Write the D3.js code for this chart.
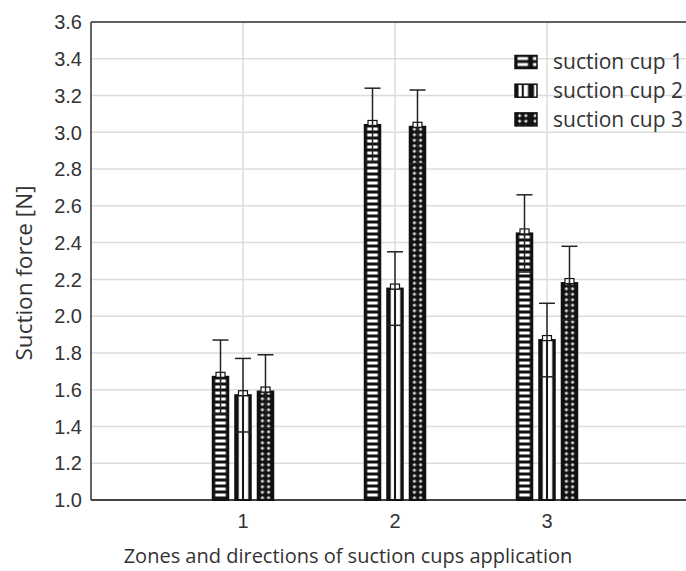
<!DOCTYPE html>
<html><head><meta charset="utf-8">
<script src="https://cdn.jsdelivr.net/npm/d3@7"></script>
<style>body{margin:0;background:#fff}</style>
</head><body>
<script>
const categories = ["1", "2", "3"];
const series = ["suction cup 1", "suction cup 2", "suction cup 3"];
const means = [
  [1.67, 3.04, 2.45],
  [1.57, 2.15, 1.87],
  [1.59, 3.03, 2.18]
];
const errors = [
  [0.20, 0.20, 0.21],
  [0.20, 0.20, 0.20],
  [0.20, 0.20, 0.20]
];
const yTicks = [1.0, 1.2, 1.4, 1.6, 1.8, 2.0, 2.2, 2.4, 2.6, 2.8, 3.0, 3.2, 3.4, 3.6];

const W = 686, H = 571;
const svg = d3.select("body").append("svg").attr("width", W).attr("height", H);
const x = d3.scaleLinear().domain([0, 4]).range([91, 699]);
const y = d3.scaleLinear().domain([1.0, 3.6]).range([500, 22]);
const inner = d3.scaleBand().domain(series).range([-30.25, 30.25]).paddingInner(0.31);
const bw = inner.bandwidth();

const defs = svg.append("defs");
// pattern 1: horizontal stripes
const p1 = defs.append("pattern").attr("id", "p1").attr("patternUnits", "userSpaceOnUse")
  .attr("width", bw).attr("height", 6);
p1.append("rect").attr("width", bw).attr("height", 6).attr("fill", "#111");
p1.append("rect").attr("x", 2.5).attr("y", 1.5).attr("width", bw - 5).attr("height", 3).attr("fill", "#fff");
// pattern 2: vertical lines
const p2 = defs.append("pattern").attr("id", "p2").attr("patternUnits", "userSpaceOnUse")
  .attr("width", bw).attr("height", 10);
p2.append("rect").attr("width", bw).attr("height", 10).attr("fill", "#fff");
p2.append("rect").attr("x", 0).attr("width", 3.5).attr("height", 10).attr("fill", "#111");
p2.append("rect").attr("x", bw / 2 - 1).attr("width", 2).attr("height", 10).attr("fill", "#111");
p2.append("rect").attr("x", bw - 2.5).attr("width", 2.5).attr("height", 10).attr("fill", "#111");
// pattern 3: crosses
const p3 = defs.append("pattern").attr("id", "p3").attr("patternUnits", "userSpaceOnUse")
  .attr("width", bw).attr("height", 5.5);
p3.append("rect").attr("width", bw).attr("height", 5.5).attr("fill", "#111");
[0.3, 0.7].forEach(f => {
  const cx = bw * f;
  p3.append("rect").attr("x", cx - 1.7).attr("y", 2.2).attr("width", 3.4).attr("height", 1.1).attr("fill", "#fff");
  p3.append("rect").attr("x", cx - 0.55).attr("y", 1.1).attr("width", 1.1).attr("height", 3.4).attr("fill", "#fff");
});
const fills = ["url(#p1)", "url(#p2)", "url(#p3)"];

// grid
svg.append("g").selectAll("line").data(yTicks.slice(1)).join("line")
  .attr("x1", x(0)).attr("x2", W).attr("y1", d => y(d)).attr("y2", d => y(d))
  .attr("stroke", "#dcdcdc").attr("stroke-width", 1.5);
svg.append("g").selectAll("line").data(categories).join("line")
  .attr("x1", d => x(+d)).attr("x2", d => x(+d)).attr("y1", y(3.6)).attr("y2", y(1.0))
  .attr("stroke", "#dcdcdc").attr("stroke-width", 1.5);

// frame
svg.append("line").attr("x1", x(0)).attr("x2", W).attr("y1", y(3.6)).attr("y2", y(3.6)).attr("stroke", "#333").attr("stroke-width", 1.5);
svg.append("line").attr("x1", x(0)).attr("x2", W).attr("y1", y(1.0)).attr("y2", y(1.0)).attr("stroke", "#444").attr("stroke-width", 2);
svg.append("line").attr("x1", x(0)).attr("x2", x(0)).attr("y1", y(3.6)).attr("y2", y(1.0)).attr("stroke", "#333").attr("stroke-width", 1.5);

// y tick labels
svg.append("g").selectAll("text").data(yTicks).join("text")
  .attr("x", 82).attr("y", d => y(d)).attr("dy", "0.36em").attr("text-anchor", "end")
  .attr("font-family", "Liberation Sans, Arial, sans-serif").attr("font-size", 20).attr("fill", "#333")
  .text(d => d.toFixed(1));
// x tick labels
svg.append("g").selectAll("text").data(categories).join("text")
  .attr("x", d => x(+d)).attr("y", 528).attr("text-anchor", "middle")
  .attr("font-family", "Liberation Sans, Arial, sans-serif").attr("font-size", 20).attr("fill", "#333")
  .text(d => d);

// bars
series.forEach((s, si) => {
  categories.forEach((c, ci) => {
    const v = means[si][ci], e = errors[si][ci];
    const cx = x(+c) + inner(s) + bw / 2;
    const g = svg.append("g").attr("transform", `translate(${x(+c) + inner(s)},0)`);
    g.append("rect").attr("x", 0).attr("y", y(v)).attr("width", bw).attr("height", y(1.0) - y(v))
      .attr("fill", fills[si]).attr("stroke", "#111").attr("stroke-width", 2);
    // marker
    svg.append("rect").attr("x", cx - 4.5).attr("y", y(v) - 4.5).attr("width", 9).attr("height", 5)
      .attr("fill", "#fff").attr("stroke", "#111").attr("stroke-width", 1.2);
    // error bar
    svg.append("line").attr("x1", cx).attr("x2", cx).attr("y1", y(v - e)).attr("y2", y(v + e))
      .attr("stroke", "#222").attr("stroke-width", 1.5);
    [v - e, v + e].forEach(t => {
      svg.append("line").attr("x1", cx - 8).attr("x2", cx + 8).attr("y1", y(t)).attr("y2", y(t))
        .attr("stroke", "#222").attr("stroke-width", 1.5);
    });
  });
});

// legend
const lg = svg.append("g");
series.forEach((s, i) => {
  const ly = 62 + i * 28.7;
  const g = lg.append("g").attr("transform", `translate(515,${ly - 6.5})`);
  g.append("rect").attr("width", 22).attr("height", 13).attr("fill", fills[i]).attr("stroke", "#111").attr("stroke-width", 1.5);
  lg.append("text").attr("x", 553).attr("y", ly).attr("dy", "0.35em")
    .attr("font-family", "Open Sans, sans-serif").attr("font-size", 21).attr("fill", "#333").text(s);
});

// axis titles
svg.append("text").attr("transform", `translate(32,273) rotate(-90)`).attr("text-anchor", "middle")
  .attr("font-family", "Open Sans, sans-serif").attr("font-size", 22.5).attr("fill", "#333").text("Suction force [N]");
svg.append("text").attr("x", 348).attr("y", 563).attr("text-anchor", "middle")
  .attr("font-family", "Open Sans, sans-serif").attr("font-size", 20).attr("fill", "#333")
  .text("Zones and directions of suction cups application");
</script>
</body></html>
